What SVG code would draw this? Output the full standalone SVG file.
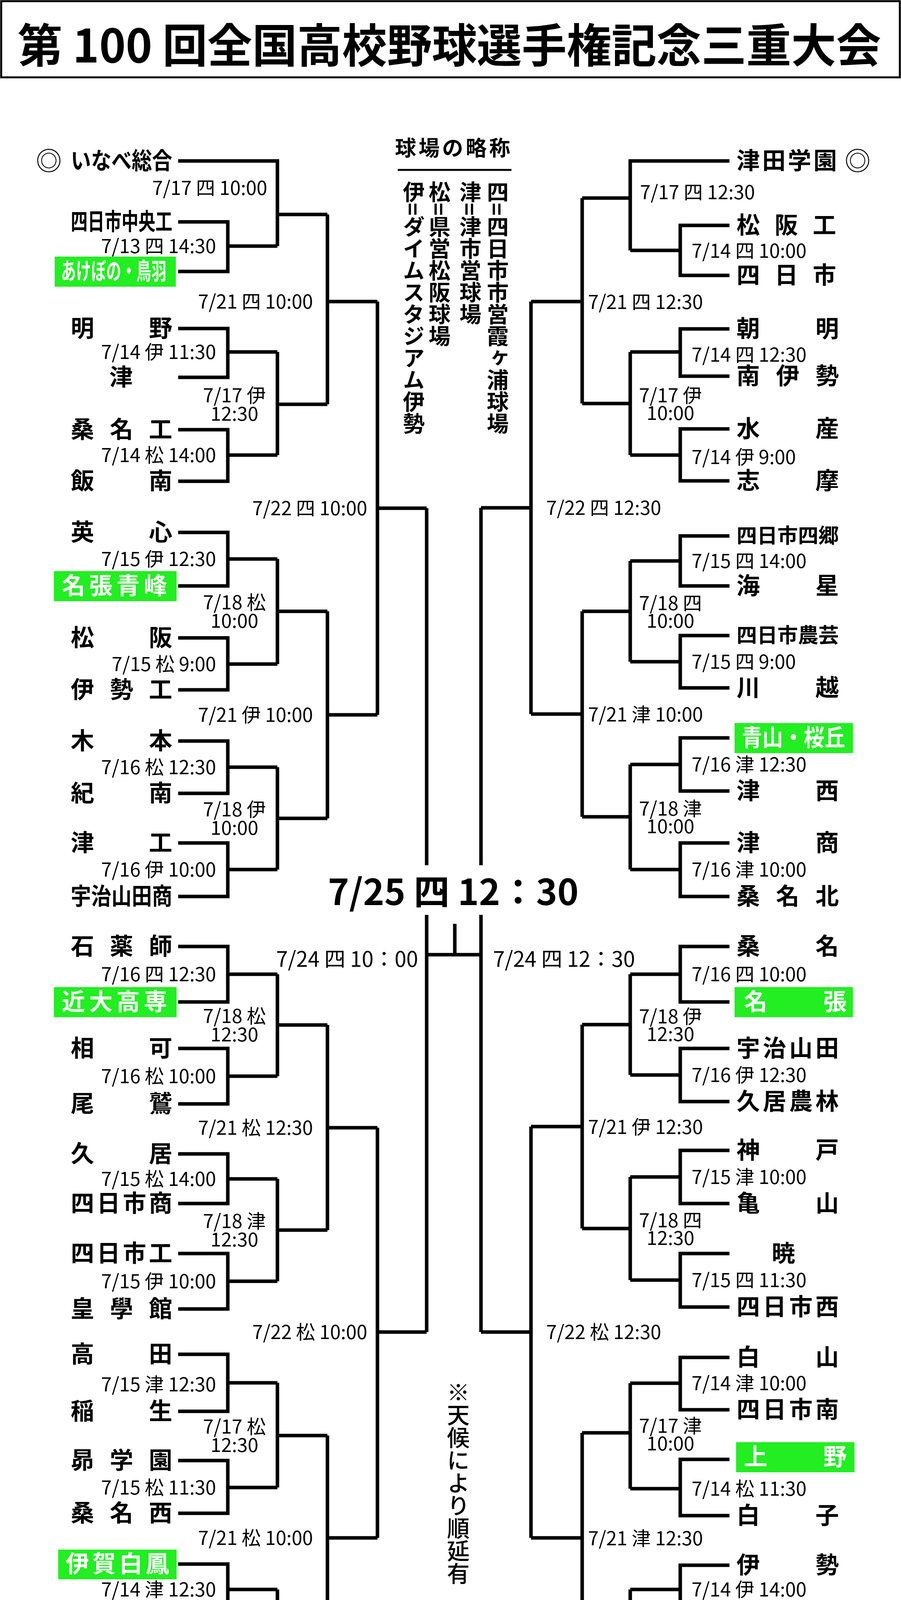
<svg xmlns="http://www.w3.org/2000/svg" width="2306" height="4452" viewBox="0 0 2306 4452">
<style>
text{font-family:"Noto Sans CJK JP","Noto Sans",sans-serif;fill:#000}
.t{font-size:60px;font-weight:700}
.d{font-size:49px}
.de{font-size:49px;text-anchor:end}
.dm{font-size:49px;text-anchor:middle}
.g{fill:#fff;font-size:60px;font-weight:700}
.gb{fill:#22ee22}
.c path{fill:none;stroke:#000;stroke-width:9}
.v{font-size:56px;font-weight:700;writing-mode:vertical-rl}
.mk{font-size:66px}
</style>
<rect x="3" y="3" width="2300" height="195" fill="#fff" stroke="#000" stroke-width="5"/>
<text x="1150" y="160" text-anchor="middle" style="font-size:118px;font-weight:700" textLength="2210" lengthAdjust="spacingAndGlyphs">第 100 回全国高校野球選手権記念三重大会</text>

<g id="connectors" class="c">
<path d="M456 568H583V695H456M583 630H710"/>
<path d="M456 412H710V630M710 549H838"/>
<path d="M456 841H583V966H456M583 901H710"/>
<path d="M456 1100H583V1232H456M583 1165H710"/>
<path d="M710 901V1165M710 1035H838"/>
<path d="M838 549V1035M838 772H966"/>
<path d="M456 1363H583V1500H456M583 1431H710"/>
<path d="M456 1633H583V1766H456M583 1700H710"/>
<path d="M710 1431V1700M710 1565H838"/>
<path d="M456 1897H583V2031H456M583 1964H710"/>
<path d="M456 2158H583V2295H456M583 2226H710"/>
<path d="M710 1964V2226M710 2095H838"/>
<path d="M838 1565V2095M838 1830H966"/>
<path d="M966 772V1830M966 1301H1092"/>
<path d="M456 2423H583V2565H456M583 2494H710"/>
<path d="M456 2684H583V2826H456M583 2755H710"/>
<path d="M710 2494V2755M710 2624H838"/>
<path d="M456 2954H583V3081H456M583 3018H710"/>
<path d="M456 3209H583V3351H456M583 3280H710"/>
<path d="M710 3018V3280M710 3149H838"/>
<path d="M838 2624V3149M838 2887H966"/>
<path d="M456 3467H583V3613H456M583 3540H710"/>
<path d="M456 3739H583V3874H456M583 3808H710"/>
<path d="M710 3540V3808M710 3675H838"/>
<path d="M456 4004H583V4136H456M583 4069H710"/>
<path d="M456 4269H583V4398H456M583 4333H710"/>
<path d="M710 4069V4333M710 4202H838"/>
<path d="M838 3675V4202M838 3937H966"/>
<path d="M966 2887V3937M966 3410H1092"/>
<path d="M1092 1301V2215M1092 2342V3410"/>
<path d="M1867 577H1741V705H1867M1741 641H1613"/>
<path d="M1867 412H1613V641M1613 507H1490"/>
<path d="M1867 842H1741V963H1867M1741 901H1613"/>
<path d="M1867 1098H1741V1231H1867M1741 1165H1613"/>
<path d="M1613 901V1165M1613 1033H1490"/>
<path d="M1490 507V1033M1490 772H1359"/>
<path d="M1867 1372H1741V1500H1867M1741 1436H1613"/>
<path d="M1867 1627H1741V1761H1867M1741 1694H1613"/>
<path d="M1613 1436V1694M1613 1565H1490"/>
<path d="M1867 1889H1741V2025H1867M1741 1957H1613"/>
<path d="M1867 2158H1741V2295H1867M1741 2226H1613"/>
<path d="M1613 1957V2226M1613 2091H1490"/>
<path d="M1490 1565V2091M1490 1828H1359"/>
<path d="M1359 772V1828M1359 1300H1231"/>
<path d="M1867 2423H1741V2565H1867M1741 2494H1613"/>
<path d="M1867 2684H1741V2820H1867M1741 2752H1613"/>
<path d="M1613 2494V2752M1613 2623H1490"/>
<path d="M1867 2945H1741V3081H1867M1741 3013H1613"/>
<path d="M1867 3209H1741V3346H1867M1741 3277H1613"/>
<path d="M1613 3013V3277M1613 3145H1490"/>
<path d="M1490 2623V3145M1490 2884H1359"/>
<path d="M1867 3475H1741V3609H1867M1741 3541H1613"/>
<path d="M1867 3736H1741V3880H1867M1741 3811H1613"/>
<path d="M1613 3541V3811M1613 3668H1490"/>
<path d="M1867 4007H1741V4138H1867M1741 4069H1613"/>
<path d="M1867 4296H1613V4069M1613 4185H1490"/>
<path d="M1490 3668V4185M1490 3937H1359"/>
<path d="M1359 2884V3937M1359 3410H1231"/>
<path d="M1231 1300V2215M1231 2342V3410"/>
<path d="M1092 2444H1231M1164 2365V2444"/>
<path d="M1018 435H1309" style="stroke-width:5"/>
<path d="M914 4332H1418" style="stroke-width:5"/>
</g>

<g id="left-teams">
<text class="mk" x="125" y="436" text-anchor="middle">◎</text>
<text class="t" x="181" y="433" textLength="260" lengthAdjust="spacingAndGlyphs">いなべ総合</text>
<text class="t" x="181" y="589" textLength="260" lengthAdjust="spacingAndGlyphs">四日市中央工</text>
<rect class="gb" x="140" y="657" width="310" height="77"/>
<text class="g" x="156" y="716" textLength="270" lengthAdjust="spacingAndGlyphs">あけぼの・鳥羽</text>
<text class="t" x="181" y="862" textLength="260" lengthAdjust="spacing">明野</text>
<text class="t" x="310" y="987" text-anchor="middle">津</text>
<text class="t" x="181" y="1121" textLength="260" lengthAdjust="spacing">桑名工</text>
<text class="t" x="181" y="1253" textLength="260" lengthAdjust="spacing">飯南</text>
<text class="t" x="181" y="1384" textLength="260" lengthAdjust="spacing">英心</text>
<rect class="gb" x="138" y="1462" width="314" height="77"/>
<text class="g" x="158" y="1521" textLength="270" lengthAdjust="spacing">名張青峰</text>
<text class="t" x="181" y="1654" textLength="260" lengthAdjust="spacing">松阪</text>
<text class="t" x="181" y="1787" textLength="260" lengthAdjust="spacing">伊勢工</text>
<text class="t" x="181" y="1918" textLength="260" lengthAdjust="spacing">木本</text>
<text class="t" x="181" y="2052" textLength="260" lengthAdjust="spacing">紀南</text>
<text class="t" x="181" y="2179" textLength="260" lengthAdjust="spacing">津工</text>
<text class="t" x="181" y="2316" textLength="260" lengthAdjust="spacingAndGlyphs">宇治山田商</text>
<text class="t" x="181" y="2444" textLength="260" lengthAdjust="spacing">石薬師</text>
<rect class="gb" x="138" y="2527" width="314" height="77"/>
<text class="g" x="158" y="2586" textLength="270" lengthAdjust="spacing">近大高専</text>
<text class="t" x="181" y="2705" textLength="260" lengthAdjust="spacing">相可</text>
<text class="t" x="181" y="2847" textLength="260" lengthAdjust="spacing">尾鷲</text>
<text class="t" x="181" y="2975" textLength="260" lengthAdjust="spacing">久居</text>
<text class="t" x="181" y="3102" textLength="260" lengthAdjust="spacing">四日市商</text>
<text class="t" x="181" y="3230" textLength="260" lengthAdjust="spacing">四日市工</text>
<text class="t" x="181" y="3372" textLength="260" lengthAdjust="spacing">皇學館</text>
<text class="t" x="181" y="3488" textLength="260" lengthAdjust="spacing">高田</text>
<text class="t" x="181" y="3634" textLength="260" lengthAdjust="spacing">稲生</text>
<text class="t" x="181" y="3760" textLength="260" lengthAdjust="spacing">昴学園</text>
<text class="t" x="181" y="3895" textLength="260" lengthAdjust="spacing">桑名西</text>
<rect class="gb" x="149" y="3967" width="303" height="76"/>
<text class="g" x="168" y="4025" textLength="265" lengthAdjust="spacing">伊賀白鳳</text>
<text class="t" x="181" y="4157" textLength="260" lengthAdjust="spacing">津東</text>
<text class="t" x="181" y="4290" textLength="260" lengthAdjust="spacing">松阪商</text>
<text class="mk" x="141" y="4422" text-anchor="middle">◎</text>
<text class="t" x="181" y="4419" textLength="260" lengthAdjust="spacing">三重</text>
</g>

<g id="right-teams">
<text class="t" x="1885" y="433" textLength="257" lengthAdjust="spacing">津田学園</text>
<text class="mk" x="2195" y="436" text-anchor="middle">◎</text>
<text class="t" x="1885" y="598" textLength="255" lengthAdjust="spacing">松阪工</text>
<text class="t" x="1885" y="726" textLength="255" lengthAdjust="spacing">四日市</text>
<text class="t" x="1885" y="863" textLength="262" lengthAdjust="spacing">朝明</text>
<text class="t" x="1885" y="984" textLength="262" lengthAdjust="spacing">南伊勢</text>
<text class="t" x="1885" y="1119" textLength="262" lengthAdjust="spacing">水産</text>
<text class="t" x="1885" y="1252" textLength="262" lengthAdjust="spacing">志摩</text>
<text class="t" x="1885" y="1390" textLength="262" lengthAdjust="spacingAndGlyphs" style="font-size:52px">四日市四郷</text>
<text class="t" x="1885" y="1521" textLength="262" lengthAdjust="spacing">海星</text>
<text class="t" x="1885" y="1645" textLength="262" lengthAdjust="spacingAndGlyphs" style="font-size:52px">四日市農芸</text>
<text class="t" x="1885" y="1782" textLength="262" lengthAdjust="spacing">川越</text>
<rect class="gb" x="1880" y="1851" width="303" height="77"/>
<text class="g" x="1898" y="1910" textLength="265" lengthAdjust="spacingAndGlyphs">青山・桜丘</text>
<text class="t" x="1885" y="2046" textLength="262" lengthAdjust="spacing">津西</text>
<text class="t" x="1885" y="2179" textLength="262" lengthAdjust="spacing">津商</text>
<text class="t" x="1885" y="2316" textLength="262" lengthAdjust="spacing">桑名北</text>
<text class="t" x="1885" y="2444" textLength="262" lengthAdjust="spacing">桑名</text>
<rect class="gb" x="1880" y="2527" width="303" height="77"/>
<text class="g" x="1904" y="2586" textLength="263" lengthAdjust="spacing">名張</text>
<text class="t" x="1885" y="2705" textLength="262" lengthAdjust="spacing">宇治山田</text>
<text class="t" x="1885" y="2841" textLength="262" lengthAdjust="spacing">久居農林</text>
<text class="t" x="1885" y="2966" textLength="262" lengthAdjust="spacing">神戸</text>
<text class="t" x="1885" y="3102" textLength="262" lengthAdjust="spacing">亀山</text>
<text class="t" x="2005" y="3230" text-anchor="middle">暁</text>
<text class="t" x="1885" y="3367" textLength="262" lengthAdjust="spacing">四日市西</text>
<text class="t" x="1885" y="3496" textLength="262" lengthAdjust="spacing">白山</text>
<text class="t" x="1885" y="3630" textLength="262" lengthAdjust="spacing">四日市南</text>
<rect class="gb" x="1884" y="3692" width="303" height="77"/>
<text class="g" x="1904" y="3751" textLength="263" lengthAdjust="spacing">上野</text>
<text class="t" x="1885" y="3901" textLength="262" lengthAdjust="spacing">白子</text>
<text class="t" x="1885" y="4028" textLength="262" lengthAdjust="spacing">伊勢</text>
<text class="t" x="1885" y="4159" textLength="262" lengthAdjust="spacing">鈴鹿</text>
<text class="t" x="1885" y="4317" textLength="262" lengthAdjust="spacing">菰野</text>
<text class="mk" x="2207" y="4320" text-anchor="middle">◎</text>
</g>

<g id="left-labels">
<text class="de" x="684" y="499">7/17 四 10:00</text>
<text class="de" x="553" y="648">7/13 四 14:30</text>
<text class="de" x="553" y="919">7/14 伊 11:30</text>
<text class="de" x="553" y="1183">7/14 松 14:00</text>
<text class="de" x="553" y="1449">7/15 伊 12:30</text>
<text class="de" x="553" y="1718">7/15 松 9:00</text>
<text class="de" x="553" y="1982">7/16 松 12:30</text>
<text class="de" x="553" y="2244">7/16 伊 10:00</text>
<text class="de" x="553" y="2512">7/16 四 12:30</text>
<text class="de" x="553" y="2773">7/16 松 10:00</text>
<text class="de" x="553" y="3036">7/15 松 14:00</text>
<text class="de" x="553" y="3298">7/15 伊 10:00</text>
<text class="de" x="553" y="3562">7/15 津 12:30</text>
<text class="de" x="553" y="3826">7/15 松 11:30</text>
<text class="de" x="553" y="4087">7/14 津 12:30</text>
<text class="de" x="553" y="4351">7/14 松 9:00</text>
<text class="dm" x="600" y="1030">7/17 伊</text><text class="dm" x="600" y="1077">12:30</text>
<text class="dm" x="600" y="1560">7/18 松</text><text class="dm" x="600" y="1607">10:00</text>
<text class="dm" x="600" y="2090">7/18 伊</text><text class="dm" x="600" y="2137">10:00</text>
<text class="dm" x="600" y="2619">7/18 松</text><text class="dm" x="600" y="2666">12:30</text>
<text class="dm" x="600" y="3144">7/18 津</text><text class="dm" x="600" y="3191">12:30</text>
<text class="dm" x="600" y="3670">7/17 松</text><text class="dm" x="600" y="3717">12:30</text>
<text class="dm" x="600" y="4197">7/17 松</text><text class="dm" x="600" y="4244">10:00</text>
<text class="de" x="801" y="790">7/21 四 10:00</text>
<text class="de" x="801" y="1848">7/21 伊 10:00</text>
<text class="de" x="801" y="2905">7/21 松 12:30</text>
<text class="de" x="801" y="3955">7/21 松 10:00</text>
<text class="de" x="940" y="1319">7/22 四 10:00</text>
<text class="de" x="940" y="3428">7/22 松 10:00</text>
</g>

<g id="right-labels">
<text class="d" x="1638" y="510">7/17 四 12:30</text>
<text class="d" x="1770" y="660">7/14 四 10:00</text>
<text class="d" x="1770" y="926">7/14 四 12:30</text>
<text class="d" x="1770" y="1188">7/14 伊 9:00</text>
<text class="d" x="1770" y="1454">7/15 四 14:00</text>
<text class="d" x="1770" y="1712">7/15 四 9:00</text>
<text class="d" x="1770" y="1975">7/16 津 12:30</text>
<text class="d" x="1770" y="2244">7/16 津 10:00</text>
<text class="d" x="1770" y="2512">7/16 四 10:00</text>
<text class="d" x="1770" y="2770">7/16 伊 12:30</text>
<text class="d" x="1770" y="3031">7/15 津 10:00</text>
<text class="d" x="1770" y="3295">7/15 四 11:30</text>
<text class="d" x="1770" y="3559">7/14 津 10:00</text>
<text class="d" x="1770" y="3829">7/14 松 11:30</text>
<text class="d" x="1770" y="4087">7/14 伊 14:00</text>
<text class="d" x="1635" y="4232">7/17 津 12:30</text>
<text class="dm" x="1716" y="1030">7/17 伊</text><text class="dm" x="1716" y="1075">10:00</text>
<text class="dm" x="1716" y="1562">7/18 四</text><text class="dm" x="1716" y="1607">10:00</text>
<text class="dm" x="1716" y="2088">7/18 津</text><text class="dm" x="1716" y="2133">10:00</text>
<text class="dm" x="1716" y="2620">7/18 伊</text><text class="dm" x="1716" y="2665">12:30</text>
<text class="dm" x="1716" y="3142">7/18 四</text><text class="dm" x="1716" y="3187">12:30</text>
<text class="dm" x="1716" y="3668">7/17 津</text><text class="dm" x="1716" y="3713">10:00</text>
<text class="d" x="1505" y="791">7/21 四 12:30</text>
<text class="d" x="1505" y="1847">7/21 津 10:00</text>
<text class="d" x="1505" y="2903">7/21 伊 12:30</text>
<text class="d" x="1505" y="3956">7/21 津 12:30</text>
<text class="d" x="1398" y="1318">7/22 四 12:30</text>
<text class="d" x="1398" y="3428">7/22 松 12:30</text>
</g>

<g id="final">
<text x="1160" y="2317" text-anchor="middle" style="font-size:92px;font-weight:700">7/25 四 12：30</text>
<text x="1070" y="2475" text-anchor="end" style="font-size:54px">7/24 四 10：00</text>
<text x="1262" y="2475" style="font-size:54px">7/24 四 12：30</text>
</g>

<g id="legend">
<text x="1011" y="399" style="font-size:54px;font-weight:700" textLength="295">球場の略称</text>
<text class="v" x="1059" y="463">伊=ダイムスタジアム伊勢</text>
<text class="v" x="1125" y="463">松=県営松阪球場</text>
<text class="v" x="1204" y="463">津=津市営球場</text>
<text class="v" x="1274" y="463">四=四日市市営霞ヶ浦球場</text>
<text x="1173" y="3535" style="font-size:58px;font-weight:500;writing-mode:vertical-rl">※天候により順延有</text>
<text x="914" y="4309" style="font-size:56px" textLength="470">◎印はシード校</text>
</g>
</svg>
